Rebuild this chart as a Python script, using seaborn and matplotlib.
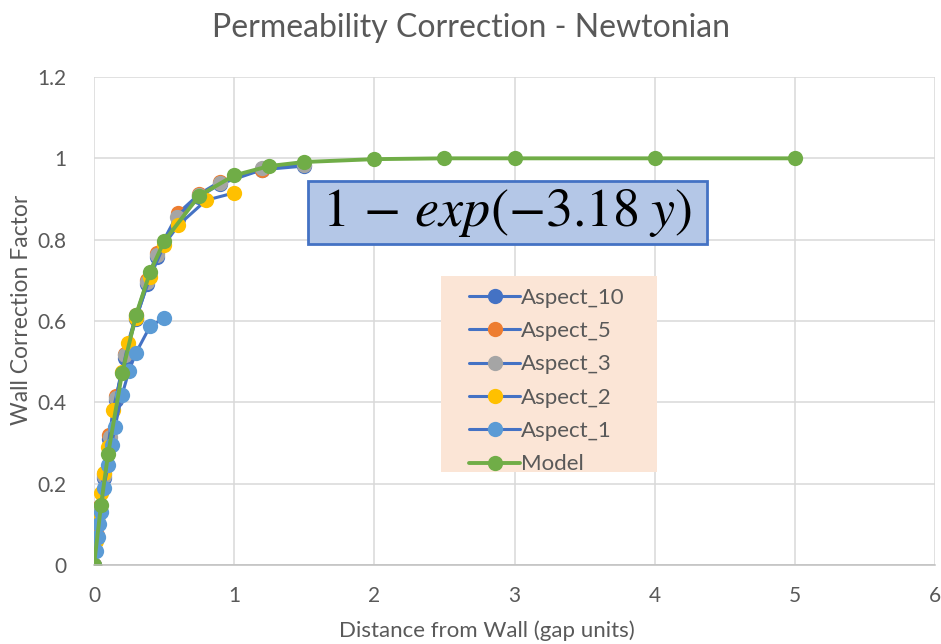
import matplotlib
matplotlib.use("Agg")
import matplotlib.pyplot as plt
import matplotlib.patches as mpatches
import seaborn as sns

# ---------------------------------------------------
# DATA
# ---------------------------------------------------
aspect_10_x = [0, 0.02, 0.04, 0.07, 0.11, 0.16, 0.22, 0.3, 0.38, 0.45, 0.6, 0.75, 0.9, 1.2, 1.5]
aspect_10_y = [0, 0.07, 0.135, 0.215, 0.31, 0.405, 0.51, 0.605, 0.69, 0.757, 0.85, 0.905, 0.937, 0.972, 0.981]

aspect_5_x = [0, 0.02, 0.04, 0.07, 0.11, 0.16, 0.22, 0.3, 0.38, 0.45, 0.6, 0.75, 0.9, 1.2]
aspect_5_y = [0, 0.075, 0.145, 0.225, 0.32, 0.415, 0.52, 0.615, 0.7, 0.768, 0.865, 0.912, 0.943, 0.972]

aspect_3_x = [0, 0.02, 0.04, 0.07, 0.114, 0.16, 0.22, 0.3, 0.38, 0.45, 0.59, 0.75, 0.9, 1.2, 1.5]
aspect_3_y = [0, 0.07, 0.14, 0.22, 0.315, 0.41, 0.516, 0.61, 0.696, 0.762, 0.856, 0.91, 0.94, 0.976, 0.984]

aspect_2_x = [0, 0.015, 0.03, 0.05, 0.07, 0.1, 0.135, 0.2, 0.245, 0.3, 0.4, 0.5, 0.6, 0.8, 1.0]
aspect_2_y = [0, 0.06, 0.12, 0.177, 0.226, 0.29, 0.38, 0.475, 0.546, 0.607, 0.708, 0.787, 0.835, 0.897, 0.915]

aspect_1_x = [0, 0.013, 0.025, 0.038, 0.05, 0.07, 0.1, 0.125, 0.15, 0.2, 0.25, 0.3, 0.4, 0.5]
aspect_1_y = [0, 0.035, 0.07, 0.1, 0.13, 0.19, 0.245, 0.295, 0.34, 0.418, 0.478, 0.522, 0.587, 0.607]

model_x = [0, 0.05, 0.1, 0.2, 0.3, 0.4, 0.5, 0.75, 1.0, 1.25, 1.5, 2.0, 2.5, 3.0, 4.0, 5.0]
model_y = [0, 0.147, 0.272, 0.471, 0.615, 0.72, 0.796, 0.908, 0.958, 0.981, 0.991, 0.998, 1.0, 1.0, 1.0, 1.0]

series = [
    ("Aspect_10", aspect_10_x, aspect_10_y, "#4472C4", "#4472C4"),
    ("Aspect_5", aspect_5_x, aspect_5_y, "#4472C4", "#ED7D31"),
    ("Aspect_3", aspect_3_x, aspect_3_y, "#4472C4", "#A5A5A5"),
    ("Aspect_2", aspect_2_x, aspect_2_y, "#4472C4", "#FFC000"),
    ("Aspect_1", aspect_1_x, aspect_1_y, "#4472C4", "#5B9BD5"),
    ("Model", model_x, model_y, "#70AD47", "#70AD47"),
]

x_ticks = [0, 1, 2, 3, 4, 5, 6]
y_ticks = [0, 0.2, 0.4, 0.6, 0.8, 1.0, 1.2]
y_tick_labels = ["0", "0.2", "0.4", "0.6", "0.8", "1", "1.2"]

# ---------------------------------------------------
# STYLE
# ---------------------------------------------------
sns.set_theme(style="whitegrid")
plt.rcParams["font.family"] = ["Lato", "DejaVu Sans"]
plt.rcParams["mathtext.fontset"] = "stix"
TXT = "#595959"

fig = plt.figure(figsize=(9.41, 6.44), dpi=100)
ax = fig.add_axes([94 / 941, 1 - 565 / 644, 841 / 941, 488 / 644])
ax.set_facecolor("white")

for name, xs, ys, lc, mc in series:
    lw = 2.8 if name == "Model" else 2.2
    sns.lineplot(x=xs, y=ys, ax=ax, color=lc, linewidth=lw, marker="o",
                 markersize=11, markerfacecolor=mc, markeredgecolor=mc,
                 markeredgewidth=0, sort=False, estimator=None, label=name)

ax.set_xlim(0, 6)
ax.set_ylim(0, 1.2)
ax.set_xticks(x_ticks)
ax.set_yticks(y_ticks)
ax.set_yticklabels(y_tick_labels)
ax.grid(True, color="#D9D9D9", linewidth=1.1)
for s in ["top", "right", "left"]:
    ax.spines[s].set_visible(False)
ax.spines["bottom"].set_color("#BFBFBF")
ax.spines["bottom"].set_linewidth(1.1)
ax.tick_params(axis="both", length=0, labelsize=15, labelcolor=TXT)
ax.tick_params(axis="x", pad=15)
ax.tick_params(axis="y", pad=20)

ax.set_xlabel("Distance from Wall (gap units)", fontsize=16, color=TXT)
ax.set_ylabel("Wall Correction Factor", fontsize=16.5, color=TXT)
ax.xaxis.set_label_coords(0.467, -0.114)
ax.yaxis.set_label_coords(-0.074, 0.5225)

fig.text(0.5, 1 - 28 / 644, "Permeability Correction - Newtonian",
         ha="center", va="center", fontsize=23, color=TXT)

# -----> equation box
rect = mpatches.Rectangle((0.2545, 0.658), 0.4744, 0.129, transform=ax.transAxes,
                          facecolor="#B4C7E7", edgecolor="#4472C4", linewidth=2,
                          zorder=5)
ax.add_patch(rect)
ax.text(0.4917, 0.7223, r"$1\,-\,exp(-3.18\;y)$", transform=ax.transAxes,
        ha="center", va="center", fontsize=39, color="black", zorder=6)

# -----> legend (background drawn as its own box)
leg_bg = mpatches.Rectangle((0.4126, 0.1906), 0.257, 0.4016, transform=ax.transAxes,
                            facecolor="#FBE5D6", edgecolor="none", zorder=4)
ax.add_patch(leg_bg)
leg = ax.legend(loc="upper left", bbox_to_anchor=(0.446, 0.568), fontsize=16,
                frameon=False, handlelength=2.3, labelspacing=0.6,
                borderpad=0, handletextpad=0.05, borderaxespad=0)
leg.set_zorder(6)
for t in leg.get_texts():
    t.set_color(TXT)

fig.savefig("out.png", dpi=100)
